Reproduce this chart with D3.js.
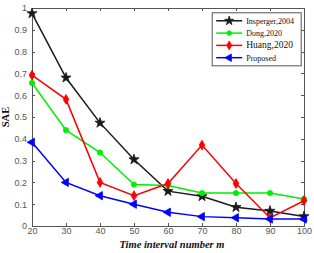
<!DOCTYPE html>
<meta charset="utf-8">
<style>
    body { margin: 0; background: #fff; }
    .axis path, .axis line { fill: none; stroke: #555; shape-rendering: crispEdges; }
    .axis text { font: 9px "Liberation Sans", sans-serif; fill: #555; }
</style>
<body>
<script src="https://d3js.org/d3.v7.min.js"></script>
<script>
    const intervals = [20, 30, 40, 50, 60, 70, 80, 90, 100]
    const insperger = [0.975, 0.68, 0.473, 0.305, 0.16, 0.136, 0.086, 0.069, 0.044]
    const dong = [0.656, 0.44, 0.337, 0.19, 0.186, 0.151, 0.151, 0.151, 0.124]
    const huang = [0.692, 0.581, 0.2, 0.139, 0.195, 0.371, 0.195, 0.037, 0.116]
    const proposed = [0.384, 0.2, 0.139, 0.1, 0.063, 0.043, 0.038, 0.032, 0.032]
    const seriesNames = ["Insperger,2004", "Dong,2020", "Huang,2020", "Proposed"]
    const yTicks = [0, 0.1, 0.2, 0.3, 0.4, 0.5, 0.6, 0.7, 0.8, 0.9, 1]

    const series = [
        {name: seriesNames[0], values: insperger, color: "#1a1a1a", symbol: d3.symbolStar, size: 32, rot: 0},
        {name: seriesNames[1], values: dong, color: "#00ee00", symbol: d3.symbolCircle, size: 22, rot: 0},
        {name: seriesNames[2], values: huang, color: "#ff0000", symbol: d3.symbolDiamond, size: 28, rot: 0},
        {name: seriesNames[3], values: proposed, color: "#0000ff", symbol: d3.symbolTriangle, size: 30, rot: -90}
    ]

    const W = 314, H = 253
    const margin = {top: 8, right: 10, bottom: 27, left: 32}
    const width = W - margin.left - margin.right
    const height = H - margin.top - margin.bottom

    const x = d3.scaleLinear().domain([20, 100]).range([0, width])
    const y = d3.scaleLinear().domain([0, 1]).range([height, 0])

    const svg = d3.select("body").append("svg")
        .attr("width", W).attr("height", H)
        .append("g")
        .attr("transform", `translate(${margin.left},${margin.top})`)

    // frame, matlab style with inward ticks on all four sides
    svg.append("rect").attr("width", width).attr("height", height)
        .attr("fill", "none").attr("stroke", "#555").attr("shape-rendering", "crispEdges")

    svg.append("g").attr("class", "axis")
        .attr("transform", `translate(0,${height})`)
        .call(d3.axisBottom(x).tickValues(intervals).tickSize(-3).tickPadding(2))
    svg.append("g").attr("class", "axis")
        .call(d3.axisTop(x).tickValues(intervals).tickSize(-3).tickFormat(""))
    svg.append("g").attr("class", "axis")
        .call(d3.axisLeft(y).tickValues(yTicks).tickSize(-3).tickPadding(5)
            .tickFormat(d => d === 0 || d === 1 ? d3.format("d")(d) : d3.format(".1f")(d)))
    svg.append("g").attr("class", "axis")
        .attr("transform", `translate(${width},0)`)
        .call(d3.axisRight(y).tickValues(yTicks).tickSize(-3).tickFormat(""))
    svg.selectAll(".axis .domain").remove()

    const line = d3.line()
        .x((d, i) => x(intervals[i]))
        .y(d => y(d))

    series.forEach(s => {
        svg.append("path")
            .datum(s.values)
            .attr("d", line)
            .attr("fill", "none")
            .attr("stroke", s.color)
            .attr("stroke-width", 1.5)

        svg.selectAll(null)
            .data(s.values)
            .enter().append("path")
            .attr("d", d3.symbol().type(s.symbol).size(s.size))
            .attr("transform", (d, i) => `translate(${x(intervals[i])},${y(d)}) rotate(${s.rot})`)
            .attr("fill", s.color)
            .attr("stroke", s.color)
            .attr("stroke-width", 0.8)
    })

    // legend
    const lg = svg.append("g").attr("transform", `translate(${x(73)},${y(0.978)})`)
    lg.append("rect").attr("width", 89).attr("height", 53)
        .attr("fill", "#fff").attr("stroke", "#555").attr("stroke-width", 1)
    series.forEach((s, i) => {
        const row = lg.append("g").attr("transform", `translate(0,${8 + i * 12.3})`)
        row.append("line").attr("x1", 4).attr("x2", 30).attr("stroke", s.color).attr("stroke-width", 1.5)
        row.append("path")
            .attr("d", d3.symbol().type(s.symbol).size(s.size * 0.8))
            .attr("transform", `translate(17,0) rotate(${s.rot})`)
            .attr("fill", s.color).attr("stroke", s.color).attr("stroke-width", 0.8)
        row.append("text").attr("x", 34).attr("y", 3)
            .style("font", (i === 2 ? "9.5px" : "8px") + " 'Liberation Serif', serif")
            .attr("fill", "#111")
            .text(s.name)
    })

    // axis titles
    svg.append("text")
        .attr("x", width / 2 + 4).attr("y", height + 22)
        .attr("text-anchor", "middle")
        .style("font", "italic bold 10.5px 'Liberation Serif', serif")
        .attr("fill", "#111")
        .text("Time interval number m")

    svg.append("text")
        .attr("transform", `translate(${-23},${y(0.5)}) rotate(-90)`)
        .attr("text-anchor", "middle")
        .style("font", "bold 10.5px 'Liberation Serif', serif")
        .attr("fill", "#111")
        .text("SAE")
</script>
